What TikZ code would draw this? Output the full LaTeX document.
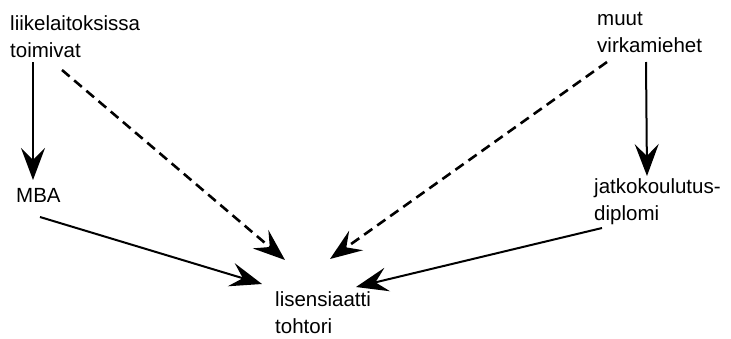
\documentclass[tikz,border=0pt]{standalone}
\usepackage{fontspec}
\setmainfont{Liberation Sans}
\usetikzlibrary{arrows.meta}
\begin{document}
\begin{tikzpicture}[x=1pt,y=-1pt,
  lbl/.style={anchor=base west,align=left,inner sep=0pt,font=\fontsize{20.5}{27}\selectfont},
  conn/.style={line width=2pt,-{Stealth[length=32pt,width=24pt,inset=12pt]}},
  dconn/.style={conn,line width=2.6pt,dash pattern=on 10pt off 6pt}]
\useasboundingbox (0,0) rectangle (731,338);
\node[lbl] (liike) at (10,57) {liikelaitoksissa\\toimivat};
\node[lbl] (muut) at (597,52) {muut\\virkamiehet};
\node[lbl] (mba) at (16,202) {MBA};
\node[lbl] (jatko) at (594,220) {jatkokoulutus-\\diplomi};
\node[lbl] (lis) at (275,333) {lisensiaatti\\tohtori};
\coordinate (a1) at (33,62);
\coordinate (a2) at (33,180);
\coordinate (b1) at (62,70);
\coordinate (b2) at (285,260);
\coordinate (c1) at (607,62);
\coordinate (c2) at (330,259);
\coordinate (d1) at (646,62);
\coordinate (d2) at (647,176);
\coordinate (e1) at (40,217);
\coordinate (e2) at (262,284);
\coordinate (f1) at (602,228);
\coordinate (f2) at (356,287);
\draw[conn] (a1) -- (a2);
\draw[dconn] (b1) -- (b2);
\draw[dconn] (c1) -- (c2);
\draw[conn] (d1) -- (d2);
\draw[conn] (e1) -- (e2);
\draw[conn] (f1) -- (f2);
\end{tikzpicture}
\end{document}
